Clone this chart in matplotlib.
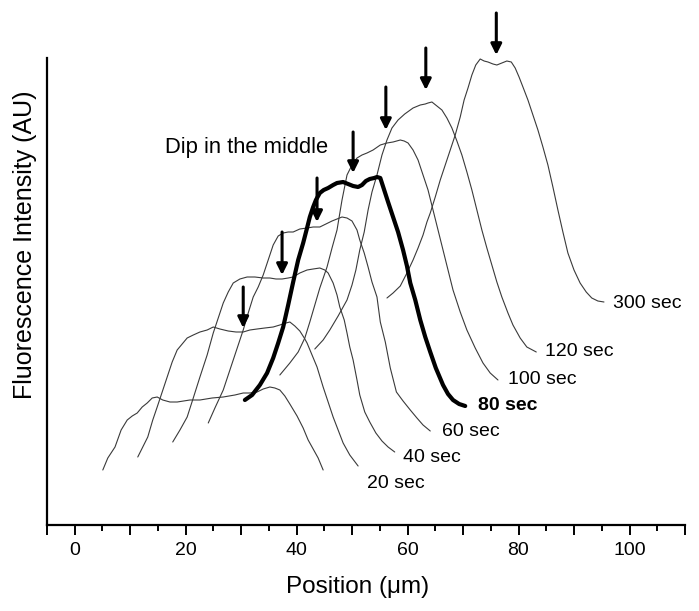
import matplotlib
matplotlib.use("Agg")
import matplotlib.pyplot as plt

plt.rcParams['font.family'] = ['Liberation Sans', 'DejaVu Sans']

# ---- data (position in um, fluorescence intensity in arbitrary units) ----
x_0s = [5.1, 6.0, 7.3, 8.4, 9.5, 10.4, 11.3, 12.2, 13.1, 14.0, 14.9, 15.9, 17.2, 18.5, 20.8, 22.6, 24.8,
        26.8, 28.9, 30.4, 31.6, 32.9, 34.0, 35.2, 36.1, 37.0, 37.9, 38.8, 40.1, 41.2, 42.1, 43.0, 43.9, 44.8]
y_0s = [55, 67, 78, 95, 105, 109, 112, 118, 122, 127, 128, 125, 123, 123, 125, 125, 127, 128, 130, 132,
        132, 133, 136, 138, 137, 135, 129, 121, 109, 97, 85, 76, 67, 55]

x_20s = [11.4, 12.3, 13.2, 14.1, 14.9, 15.8, 16.7, 17.6, 18.5, 19.4, 20.3, 21.4, 22.6, 23.9, 25.0, 26.2,
         27.7, 29.1, 30.4, 31.6, 32.9, 34.3, 35.8, 37.0, 38.1, 38.8, 39.7, 40.6, 41.4, 41.9, 42.8, 43.7,
         44.8, 45.7, 46.6, 47.5, 48.4, 49.6, 51.1]
y_20s = [68, 78, 88, 105, 118, 133, 148, 163, 175, 181, 187, 190, 193, 195, 198, 196, 194, 193, 193, 195,
         196, 197, 198, 200, 202, 203, 199, 194, 187, 182, 170, 158, 138, 123, 108, 95, 82, 70, 59]

x_40s = [17.7, 19.0, 20.3, 21.4, 22.6, 23.9, 25.0, 25.9, 26.8, 27.7, 28.6, 29.8, 31.1, 32.5, 34.0, 35.2,
         36.3, 37.4, 38.5, 39.4, 40.6, 41.9, 43.0, 44.2, 45.1, 45.7, 46.6, 47.3, 47.8, 48.6, 49.1, 49.6,
         50.2, 50.9, 51.4, 52.3, 53.2, 54.3, 55.4, 56.5, 57.7]
y_40s = [83, 95, 108, 127, 148, 170, 192, 207, 222, 233, 242, 246, 248, 248, 247, 247, 246, 246, 247, 248,
         252, 255, 256, 257, 255, 252, 242, 230, 218, 205, 192, 178, 165, 145, 130, 113, 103, 92, 84, 78, 73]

x_60s = [24.1, 25.3, 26.8, 27.7, 28.6, 29.5, 30.4, 31.3, 32.2, 33.1, 34.0, 34.9, 35.8, 36.7, 37.6, 38.5,
         39.4, 40.6, 41.9, 43.0, 44.2, 45.3, 46.4, 47.3, 48.2, 49.1, 50.0, 50.9, 51.4, 52.2, 52.9, 53.6,
         54.5, 55.1, 56.0, 56.9, 58.0, 59.2, 60.5, 61.7, 62.8, 64.1]
y_60s = [102, 117, 135, 150, 165, 180, 195, 212, 228, 238, 250, 265, 280, 289, 292, 293, 293, 296, 297, 298,
         298, 301, 304, 306, 308, 307, 304, 295, 285, 272, 258, 243, 228, 203, 183, 157, 133, 124, 115, 107,
         100, 94]

x_80s = [30.7, 32.0, 33.4, 34.7, 35.8, 36.7, 37.6, 38.5, 39.4, 40.3, 41.2, 41.9, 42.4, 43.0, 43.5, 44.2,
         44.9, 45.7, 46.6, 47.3, 48.4, 49.3, 50.2, 51.1, 51.8, 52.5, 53.2, 54.0, 54.5, 55.1, 55.8, 56.5,
         57.4, 58.3, 59.2, 59.9, 60.5, 61.4, 62.3, 63.2, 64.1, 65.1, 66.4, 67.3, 68.2, 69.3, 70.4]
y_80s = [125, 130, 140, 152, 167, 182, 198, 220, 243, 265, 282, 297, 308, 318, 325, 332, 335, 337, 340, 342,
         343, 341, 339, 338, 340, 344, 346, 347, 348, 347, 335, 323, 308, 293, 275, 259, 242, 225, 205, 188,
         173, 157, 140, 131, 125, 121, 119]

x_100s = [37.0, 38.8, 40.3, 41.5, 42.4, 43.3, 44.2, 45.5, 46.4, 47.3, 48.2, 49.1, 50.0, 50.9, 51.8, 52.7,
          53.8, 55.1, 56.3, 57.4, 58.7, 59.4, 60.1, 61.0, 61.9, 62.8, 63.7, 64.6, 65.5, 66.4, 67.3, 68.2,
          69.5, 70.7, 72.2, 73.6, 74.9, 76.3]
y_100s = [150, 162, 173, 187, 203, 220, 237, 258, 277, 295, 325, 350, 360, 367, 370, 372, 375, 380, 382, 383,
          385, 384, 382, 375, 365, 350, 335, 315, 295, 275, 255, 235, 213, 195, 177, 162, 152, 145]

x_120s = [43.3, 44.8, 46.0, 47.5, 49.1, 50.0, 50.7, 51.4, 52.2, 52.9, 53.6, 54.5, 55.4, 56.3, 57.2, 58.3,
          59.5, 61.0, 62.3, 63.2, 63.7, 64.4, 65.3, 66.2, 67.1, 68.0, 68.9, 69.8, 70.7, 71.6, 72.5, 73.4,
          74.3, 75.2, 76.1, 77.0, 78.1, 79.0, 80.3, 81.5, 83.2]
y_120s = [176, 185, 195, 209, 225, 240, 255, 275, 293, 315, 333, 350, 370, 385, 397, 405, 411, 417, 420, 421,
          422, 423, 419, 415, 407, 397, 384, 370, 353, 335, 315, 295, 277, 260, 243, 228, 212, 200, 187, 178,
          173]

x_300s = [56.3, 57.4, 58.7, 59.9, 61.0, 61.9, 62.8, 63.5, 64.1, 65.0, 65.9, 66.8, 67.7, 68.6, 69.5, 70.2,
          70.9, 71.6, 72.3, 73.1, 73.8, 74.5, 75.4, 76.1, 77.0, 77.9, 78.7, 79.4, 80.1, 80.8, 81.7, 82.6,
          83.5, 84.4, 85.3, 86.2, 87.1, 88.0, 88.9, 90.0, 91.1, 92.2, 93.2, 94.3, 95.4]
y_300s = [227, 232, 239, 252, 265, 277, 290, 303, 312, 328, 345, 360, 375, 390, 408, 425, 437, 450, 460, 466,
          464, 463, 461, 460, 462, 464, 463, 457, 448, 438, 425, 410, 395, 378, 360, 338, 315, 293, 272, 255,
          242, 233, 227, 224, 223]

curve_labels = ["", "20 sec", "40 sec", "60 sec", "80 sec", "100 sec", "120 sec", "300 sec"]
label_x = [None, 52.7, 59.2, 66.2, 72.7, 78.1, 84.8, 97.0]
label_y = [None, 42, 67, 93, 120, 145, 173, 221]

# dips marked by arrows (position, arrow tail, arrow tip)
arrow_x = [30.4, 37.4, 43.7, 50.2, 56.1, 63.3, 76.0]
arrow_tail = [238, 293, 347, 393, 438, 477, 512]
arrow_tip = [197, 250, 303, 352, 395, 435, 470]

x_ticks_major = [-5, 0, 10, 20, 30, 40, 50, 60, 70, 80, 90, 100, 110]
x_tick_labels = ["", "0", "", "20", "", "40", "", "60", "", "80", "", "100", ""]
x_ticks_minor = [5, 15, 25, 35, 45, 55, 65, 75, 85, 95, 105]

# ---- figure ----
W, H = 699, 611
fig = plt.figure(figsize=(W / 100, H / 100), dpi=100)
ax = fig.add_axes([46.75 / W, 86 / H, 638.25 / W, 467 / H])
ax.set_xlim(-5, 110)
ax.set_ylim(0, 467)

xs = [x_0s, x_20s, x_40s, x_60s, x_80s, x_100s, x_120s, x_300s]
ys = [y_0s, y_20s, y_40s, y_60s, y_80s, y_100s, y_120s, y_300s]
for i, (xx, yy) in enumerate(zip(xs, ys)):
    bold = curve_labels[i] == "80 sec"
    ax.plot(xx, yy, color='black' if bold else '#3a3a3a', lw=3.0 if bold else 0.8,
            solid_capstyle='round', clip_on=False, zorder=3 if bold else 2)
    if curve_labels[i]:
        ax.text(label_x[i], label_y[i], curve_labels[i], fontsize=14, ha='left', va='center',
                fontweight='bold' if bold else 'normal', color='black')

for ax_x, tail, tip in zip(arrow_x, arrow_tail, arrow_tip):
    ax.annotate('', xy=(ax_x, tip), xytext=(ax_x, tail),
                arrowprops=dict(arrowstyle='-|>', lw=2.2, color='black', mutation_scale=16,
                                shrinkA=0, shrinkB=0),
                annotation_clip=False, zorder=4)

ax.text(16.3, 378, "Dip in the middle", fontsize=15.8, ha='left', va='center')

for s in ['top', 'right']:
    ax.spines[s].set_visible(False)
for s in ['left', 'bottom']:
    ax.spines[s].set_linewidth(1.6)
ax.set_yticks([])
ax.set_xticks(x_ticks_major)
ax.set_xticklabels(x_tick_labels)
ax.set_xticks(x_ticks_minor, minor=True)
ax.tick_params(axis='x', which='major', length=7, width=1.4, labelsize=14, pad=5, direction='out')
ax.tick_params(axis='x', which='minor', length=4, width=1.4, direction='out')

fig.text(358 / W, 1 - 587 / H, "Position (\u03bcm)", fontsize=17.5, ha='center', va='center')
fig.text(25 / W, 1 - 245 / H, "Fluorescence Intensity (AU)", fontsize=18, ha='center', va='center',
         rotation=90)

fig.savefig('out.png', dpi=100)
